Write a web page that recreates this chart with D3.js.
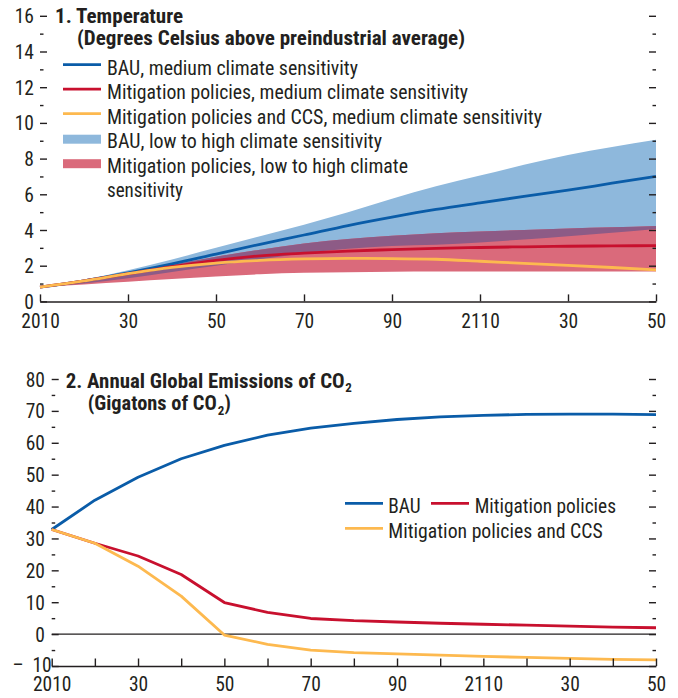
<!DOCTYPE html>
<html><head><meta charset="utf-8">
<script src="https://cdn.jsdelivr.net/npm/d3@7"></script>
<style>
html,body{margin:0;padding:0;background:#fff;}
svg text{font-family:"Liberation Sans Narrow","Roboto Condensed","DejaVu Sans Condensed","Arial Narrow",sans-serif;fill:#231f20;}
</style></head><body>
<svg id="chart" width="678" height="698"></svg>
<script>
// ---------------- DATA ----------------
const years = [2010,2020,2030,2040,2050,2060,2070,2080,2090,2100,2110,2120,2130,2140,2150];
// Panel 1: temperature (deg C above preindustrial)
const bauTemp = [0.8,1.15,1.6,2.1,2.65,3.2,3.72,4.25,4.72,5.15,5.52,5.88,6.23,6.62,7.0];
const mitTemp = [0.8,1.15,1.55,1.95,2.3,2.55,2.7,2.82,2.9,2.97,3.02,3.06,3.09,3.11,3.12];
const ccsTemp = [0.8,1.15,1.55,1.9,2.15,2.3,2.38,2.41,2.4,2.36,2.25,2.13,2.02,1.9,1.77];
const bauHigh = [0.8,1.22,1.75,2.35,3.0,3.65,4.3,5.0,5.75,6.45,7.05,7.65,8.2,8.65,9.05];
const bauLow  = [0.8,1.0,1.3,1.65,2.0,2.35,2.7,2.95,3.1,3.17,3.3,3.47,3.65,3.85,4.06];
const mitHigh = [0.8,1.15,1.6,2.05,2.5,2.9,3.25,3.5,3.68,3.82,3.92,4.0,4.08,4.15,4.22];
const mitLow  = [0.8,0.95,1.1,1.25,1.4,1.52,1.6,1.64,1.66,1.67,1.67,1.67,1.67,1.67,1.67];
// Panel 2: annual global CO2 emissions (Gt CO2)
const bauEm = [32.8,42,49.2,55,59.2,62.4,64.6,66.1,67.3,68.1,68.6,68.9,69.0,69.0,68.8];
const mitEm = [32.8,28.5,24.5,18.7,9.9,6.8,4.9,4.2,3.8,3.4,3.1,2.8,2.5,2.2,2.0];
const ccsEm = [32.8,28.5,21.3,11.9,-0.3,-3.2,-5.0,-5.8,-6.2,-6.6,-7.0,-7.3,-7.6,-7.9,-8.1];
// Tick values
const tempMajor = [0,2,4,6,8,10,12,14,16];
const tempMinor = [1,3,5,7,9,11,13,15];
const emMajor = [-10,0,10,20,30,40,50,60,70,80];
const emMinor = [-5,5,15,25,35,45,55,65,75];
const xMajor20 = [2010,2030,2050,2070,2090,2110,2130,2150];
const xTicks10 = years;
// Legend labels
const tempLegend = ["BAU, medium climate sensitivity","Mitigation policies, medium climate sensitivity","Mitigation policies and CCS, medium climate sensitivity","BAU, low to high climate sensitivity","Mitigation policies, low to high climate","sensitivity"];
const emLegend = ["BAU","Mitigation policies","Mitigation policies and CCS"];

// ---------------- STYLE ----------------
const C = {blue:"#0a5ca8", red:"#c8102e", yellow:"#fdb94f", blueBand:"#8eb8dc", redBand:"#da6a7b", purple:"#8d5b86", ink:"#231f20"};
const FS = 19.5;

const svg = d3.select("#chart");
const yearLabel = d => (d===2010||d===2110) ? String(d) : String(d).slice(2);

function fitText(g, x, y, str, w, opts={}) {
  const t = g.append("text").attr("x",x).attr("y",y).text(str)
    .style("font-size",(opts.size||FS)+"px").style("font-weight",opts.bold?"bold":"normal");
  if (w) t.attr("textLength",w).attr("lengthAdjust","spacingAndGlyphs");
  return t;
}

function yAxes(g, y, x0, x1, major, minor, labelPad) {
  const la = g.append("g").attr("transform",`translate(${x0},0)`)
    .call(d3.axisLeft(y).tickValues(major).tickSize(-7).tickPadding(labelPad).tickFormat(d => d<0 ? "\u2013\u2002"+Math.abs(d) : d));
  la.select(".domain").remove();
  la.selectAll("text").style("font-size",FS+"px").style("fill",C.ink).attr("dy","0.36em");
  const lm = g.append("g").attr("transform",`translate(${x0},0)`)
    .call(d3.axisLeft(y).tickValues(minor).tickSize(-3.5).tickFormat(""));
  lm.select(".domain").remove();
  const ra = g.append("g").attr("transform",`translate(${x1},0)`)
    .call(d3.axisRight(y).tickValues(major).tickSize(-7).tickFormat(""));
  ra.select(".domain").remove();
  const rm = g.append("g").attr("transform",`translate(${x1},0)`)
    .call(d3.axisRight(y).tickValues(minor).tickSize(-3.5).tickFormat(""));
  rm.select(".domain").remove();
  g.selectAll("line").attr("stroke",C.ink).attr("stroke-width",1.4);
  return la;
}

// ---------------- PANEL 1 ----------------
{
  const g = svg.append("g");
  const x = d3.scaleLinear().domain([2010,2150]).range([40,656]);
  const y = d3.scaleLinear().domain([0,16]).range([301.4,15.8]);
  const idx = d3.range(years.length);

  const bandArea = (lo,hi) => d3.area().x(i=>x(years[i])).y0(i=>y(lo[i])).y1(i=>y(hi[i])).curve(d3.curveMonotoneX);
  const bauA = bandArea(bauLow,bauHigh), mitA = bandArea(mitLow,mitHigh);
  svg.append("defs").append("clipPath").attr("id","bauClip").append("path").attr("d",bauA(idx));
  g.append("path").attr("d",bauA(idx)).attr("fill",C.blueBand);
  g.append("path").attr("d",mitA(idx)).attr("fill",C.redBand);
  g.append("path").attr("d",mitA(idx)).attr("fill",C.purple).attr("clip-path","url(#bauClip)");

  const line = arr => d3.line().x(i=>x(years[i])).y(i=>y(arr[i])).curve(d3.curveMonotoneX)(idx);
  [[bauTemp,C.blue],[mitTemp,C.red],[ccsTemp,C.yellow]].forEach(([a,c]) =>
    g.append("path").attr("d",line(a)).attr("fill","none").attr("stroke",c).attr("stroke-width",2.8));

  const ax = g.append("g").attr("transform",`translate(0,${y(0)})`)
    .call(d3.axisBottom(x).tickValues(xMajor20).tickSize(-7).tickSizeOuter(0).tickPadding(12.4).tickFormat(yearLabel));
  ax.select(".domain").attr("stroke",C.ink).attr("stroke-width",1.5);
  ax.selectAll("text").style("font-size",FS+"px").style("fill",C.ink);
  yAxes(g, y, 40, 656, tempMajor, tempMinor, 6);
  g.selectAll(".tick line").attr("stroke",C.ink).attr("stroke-width",1.4);

  // titles
  fitText(g,55,22.5,"1. Temperature",128,{bold:true});
  fitText(g,77,45,"(Degrees Celsius above preindustrial average)",388,{bold:true});
  // legend
  const lg = g.append("g");
  const rows = [74.5,99,123.5,148,172.5,197];
  const widths = [251,361,435,275,301,76];
  const marks = [["line",C.blue],["line",C.red],["line",C.yellow],["rect",C.blueBand],["rect",C.redBand],null];
  rows.forEach((b,i) => {
    const m = marks[i];
    if (m && m[0]==="line") lg.append("line").attr("x1",63).attr("x2",101).attr("y1",b-9.8).attr("y2",b-9.8).attr("stroke",m[1]).attr("stroke-width",2.8);
    if (m && m[0]==="rect") lg.append("rect").attr("x",63).attr("width",38).attr("y",b-13.3).attr("height",9).attr("fill",m[1]);
    fitText(lg,107,b,tempLegend[i],widths[i]);
  });
}

// ---------------- PANEL 2 ----------------
{
  const g = svg.append("g");
  const x = d3.scaleLinear().domain([2010,2150]).range([51.7,656]);
  const y = d3.scaleLinear().domain([-10,80]).range([666,379]);
  const idx = d3.range(years.length);

  g.append("line").attr("x1",x(2010)).attr("x2",x(2150)).attr("y1",y(0)).attr("y2",y(0)).attr("stroke",C.ink).attr("stroke-width",1);

  const line = arr => d3.line().x(i=>x(years[i])).y(i=>y(arr[i]))(idx);
  [[bauEm,C.blue],[mitEm,C.red],[ccsEm,C.yellow]].forEach(([a,c]) =>
    g.append("path").attr("d",line(a)).attr("fill","none").attr("stroke",c).attr("stroke-width",2.8).attr("stroke-linejoin","round"));

  const ax = g.append("g").attr("transform",`translate(0,${y(-10)})`)
    .call(d3.axisBottom(x).tickValues(xTicks10).tickSize(-7.5).tickSizeOuter(0).tickPadding(10.8).tickFormat(d => xMajor20.includes(d) ? yearLabel(d) : ""));
  ax.select(".domain").attr("stroke",C.ink).attr("stroke-width",1.5);
  ax.selectAll("text").style("font-size",FS+"px").style("fill",C.ink);
  const la = yAxes(g, y, 51.7, 656, emMajor, emMinor, 6.7);
  la.selectAll(".tick").filter(d => d===-10).select("text").attr("x",0).attr("dy","0.3em");
  g.selectAll(".tick line").attr("stroke",C.ink).attr("stroke-width",1.4);

  // titles
  fitText(g,65.7,387.5,"2. Annual Global Emissions of CO",279,{bold:true});
  fitText(g,345.2,392,"2",null,{bold:true,size:13});
  fitText(g,87.7,410,"(Gigatons of CO",129,{bold:true});
  fitText(g,217.8,414.5,"2",null,{bold:true,size:13});
  fitText(g,224.5,410,")",null,{bold:true});

  // legend
  const lg = g.append("g");
  lg.append("line").attr("x1",345).attr("x2",383).attr("y1",503.3).attr("y2",503.3).attr("stroke",C.blue).attr("stroke-width",2.8);
  fitText(lg,388.3,513.3,emLegend[0],32.4);
  lg.append("line").attr("x1",431).attr("x2",469).attr("y1",503.3).attr("y2",503.3).attr("stroke",C.red).attr("stroke-width",2.8);
  fitText(lg,474.7,513.3,emLegend[1],141.3);
  lg.append("line").attr("x1",345).attr("x2",383).attr("y1",528.3).attr("y2",528.3).attr("stroke",C.yellow).attr("stroke-width",2.8);
  fitText(lg,388.3,537.7,emLegend[2],214.4);
}
</script>
</body></html>
